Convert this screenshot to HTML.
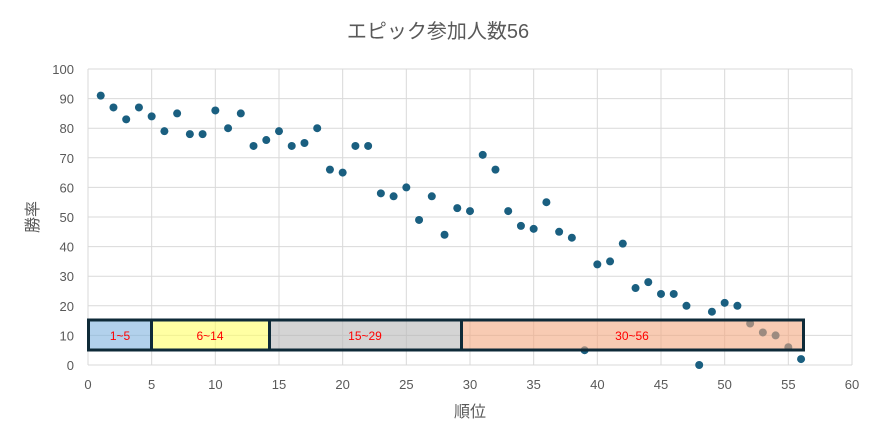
<!DOCTYPE html>
<html><head><meta charset="utf-8"><style>
body{margin:0;background:#fff;}
svg text{font-family:"Liberation Sans","Noto Sans CJK JP",sans-serif;}
</style></head><body>
<svg width="871" height="441" xmlns="http://www.w3.org/2000/svg">
<rect width="871" height="441" fill="#fff"/>
<text x="438" y="38" text-anchor="middle" font-size="20" fill="#595959">エピック参加人数56</text>
<g id="grid" stroke="#d9d9d9" stroke-width="1"></g>
<g id="ticks" font-size="13" fill="#595959"></g>
<text x="470" y="417" text-anchor="middle" font-size="16" fill="#595959">順位</text>
<text x="38" y="217" text-anchor="middle" font-size="16" fill="#595959" transform="rotate(-90 38 217)">勝率</text>
<g id="pts" fill="#1a5f80"></g>
<g stroke="#0e2a38" stroke-width="3" fill-opacity="0.6">
<rect x="88.5" y="320" width="63" height="30" fill="#7fb2e0"/>
<rect x="151.5" y="320" width="118" height="30" fill="#ffff66"/>
<rect x="269.5" y="320" width="192" height="30" fill="#b8b8b8"/>
<rect x="461.5" y="320" width="342" height="30" fill="#f4a880"/>
</g>
<g font-size="12" fill="#ff0000" text-anchor="middle">
<text x="120" y="340">1~5</text>
<text x="210" y="340">6~14</text>
<text x="365" y="340">15~29</text>
<text x="632" y="340">30~56</text>
</g>
<script>
var ns="http://www.w3.org/2000/svg";
function X(v){return 88+v*764/60;}function Y(v){return 365-v*2.96;}
var g=document.getElementById('grid'),t=document.getElementById('ticks');
for(var i=0;i<=60;i+=5){var l=document.createElementNS(ns,'line');l.setAttribute('x1',X(i));l.setAttribute('x2',X(i));l.setAttribute('y1',Y(0));l.setAttribute('y2',Y(100));g.appendChild(l);
var tx=document.createElementNS(ns,'text');tx.setAttribute('x',X(i));tx.setAttribute('y',389);tx.setAttribute('text-anchor','middle');tx.textContent=i;t.appendChild(tx);}
for(var j=0;j<=100;j+=10){var l=document.createElementNS(ns,'line');l.setAttribute('x1',X(0));l.setAttribute('x2',X(60));l.setAttribute('y1',Y(j));l.setAttribute('y2',Y(j));g.appendChild(l);
var tx=document.createElementNS(ns,'text');tx.setAttribute('x',74);tx.setAttribute('y',Y(j)+5);tx.setAttribute('text-anchor','end');tx.textContent=j;t.appendChild(tx);}
var d=[91,87,83,87,84,79,85,78,78,86,80,85,74,76,79,74,75,80,66,65,74,74,58,57,60,49,57,44,53,52,71,66,52,47,46,55,45,43,5,34,35,41,26,28,24,24,20,0,18,21,20,14,11,10,6,2];
var p=document.getElementById('pts');
d.forEach(function(v,k){var c=document.createElementNS(ns,'circle');c.setAttribute('cx',X(k+1));c.setAttribute('cy',Y(v));c.setAttribute('r',4);p.appendChild(c);});
</script>
</svg>
</body></html>
